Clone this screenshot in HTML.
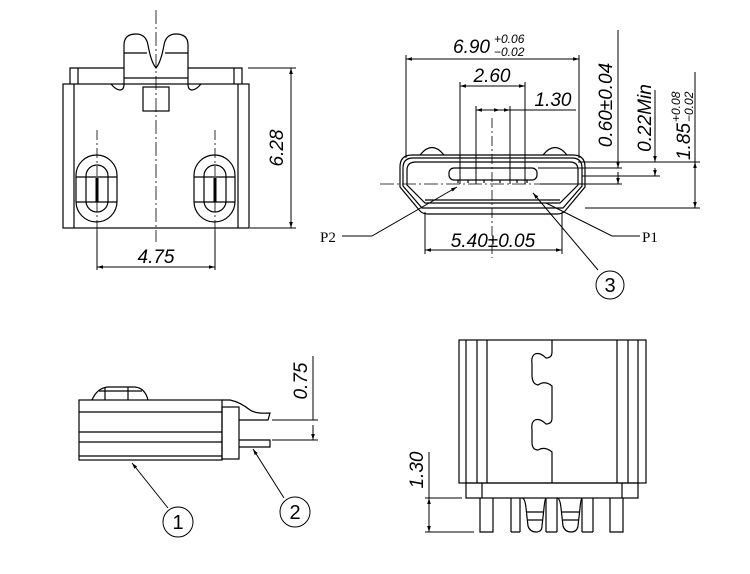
<!DOCTYPE html>
<html><head><meta charset="utf-8"><style>
html,body{margin:0;padding:0;background:#fff;}
svg{display:block}
text{font-family:"Liberation Sans",sans-serif;font-style:italic;fill:#000}
</style></head><body>
<svg width="750" height="574" viewBox="0 0 750 574" xmlns="http://www.w3.org/2000/svg">
<defs>
<marker id="a" viewBox="0 0 10 10" refX="10" refY="5" markerWidth="8" markerHeight="6" orient="auto-start-reverse"><path d="M0,2 L10,5 L0,8z" fill="#000"/></marker>
</defs>
<g stroke="#000" stroke-width="1.2" fill="none">
<!-- ===== Top-left view ===== -->
<line x1="156" y1="10" x2="156" y2="242" stroke-width="0.8" stroke-dasharray="14,3,2,3"/>
<rect x="63" y="84" width="186" height="144"/>
<line x1="74" y1="84" x2="74" y2="228"/>
<line x1="238" y1="84" x2="238" y2="228"/>
<path d="M70,84 V68 H124 V84 M78,68 V84"/>
<path d="M242,84 V68 H188 V84 M234,68 V84"/>
<path d="M124,68 V45 Q124,34 136,34 Q146,34 148,45 Q151,62 156,68 Q161,62 164,45 Q166,34 176,34 Q188,34 188,45 V68"/>
<line x1="124" y1="53" x2="147" y2="53"/><line x1="165" y1="53" x2="188" y2="53"/>
<line x1="124" y1="78" x2="188" y2="78"/>
<path d="M111,84 Q116,90 120,90 Q124,90 124,84"/>
<path d="M201,84 Q196,90 192,90 Q188,90 188,84"/>
<rect x="143" y="87" width="26" height="24"/>
<g>
<rect x="76" y="155" width="41" height="67" rx="20.5"/>
<rect x="86" y="165" width="22" height="47" rx="11"/>
<line x1="76" y1="177" x2="117" y2="177"/><line x1="76" y1="202" x2="117" y2="202"/>
<line x1="97" y1="178" x2="97" y2="202" stroke-width="3"/>
<line x1="97" y1="130" x2="97" y2="232" stroke-width="0.8" stroke-dasharray="10,3,2,3"/>
</g>
<g>
<rect x="194" y="155" width="41" height="67" rx="20.5"/>
<rect x="204" y="165" width="22" height="47" rx="11"/>
<line x1="194" y1="177" x2="235" y2="177"/><line x1="194" y1="202" x2="235" y2="202"/>
<line x1="215" y1="178" x2="215" y2="202" stroke-width="3"/>
<line x1="215" y1="130" x2="215" y2="232" stroke-width="0.8" stroke-dasharray="10,3,2,3"/>
</g>
<g stroke-width="1">
<line x1="248" y1="68" x2="296" y2="68"/><line x1="250" y1="228" x2="296" y2="228"/>
<line x1="291" y1="68" x2="291" y2="228" marker-start="url(#a)" marker-end="url(#a)"/>
<line x1="97" y1="230" x2="97" y2="270"/><line x1="215" y1="230" x2="215" y2="270"/>
<line x1="97" y1="267" x2="215" y2="267" marker-start="url(#a)" marker-end="url(#a)"/>
</g>
<!-- ===== Top-right view ===== -->
<g stroke-width="1">
<line x1="406" y1="59" x2="579" y2="59" marker-start="url(#a)" marker-end="url(#a)"/>
<line x1="406" y1="55" x2="406" y2="158"/><line x1="579" y1="55" x2="579" y2="158"/>
<line x1="460" y1="86" x2="525" y2="86" marker-start="url(#a)" marker-end="url(#a)"/>
<line x1="460" y1="82" x2="460" y2="184"/><line x1="525" y1="82" x2="525" y2="184"/>
<line x1="476" y1="110" x2="500" y2="110" marker-start="url(#a)" marker-end="url(#a)"/>
<line x1="500" y1="110" x2="510" y2="110" marker-end="url(#a)"/>
<line x1="510" y1="110" x2="576" y2="110"/>
<line x1="476" y1="106" x2="476" y2="184"/><line x1="510" y1="106" x2="510" y2="184"/>
<line x1="492" y1="118" x2="492" y2="258" stroke-width="0.8" stroke-dasharray="10,3,2,3"/>
<line x1="380" y1="184" x2="600" y2="184" stroke-width="0.8" stroke-dasharray="14,3,2,3"/>
</g>
<path d="M420,155 Q432,140 444,155 M543,155 Q555,140 567,155"/>
<path d="M412,155 H573 Q585,155 585,167 V187 L565,211 Q562,214 557,214 H428 Q423,214 420,211 L400,187 V167 Q400,155 412,155Z"/>
<path d="M413,158 H572 Q582,158 582,168 V186 L563,208 H422 L403,186 V168 Q403,158 413,158Z"/>
<path d="M416,162 H570 Q578,162 578,170 V185 L560,203 H425 L407,185 V170 Q407,162 416,162Z"/>
<line x1="425" y1="200" x2="560" y2="200"/>
<rect x="449" y="168" width="88" height="12" rx="5"/>
<path d="M458,180v3 M468,180v3 M484,180v3 M500,180v3 M517,180v3 M527,180v3"/>
<g stroke-width="1">
<line x1="538" y1="168" x2="622" y2="168"/><line x1="540" y1="184" x2="622" y2="184"/>
<line x1="618" y1="30" x2="618" y2="168"/>
<line x1="618" y1="150" x2="618" y2="168" marker-end="url(#a)"/>
<line x1="618" y1="184" x2="618" y2="172" marker-start="url(#a)"/>
<line x1="578" y1="162" x2="660" y2="162"/><line x1="582" y1="176" x2="660" y2="176"/>
<line x1="655" y1="90" x2="655" y2="162" marker-end="url(#a)"/>
<line x1="655" y1="176" x2="655" y2="168" marker-start="url(#a)"/>
<line x1="660" y1="162" x2="700" y2="162"/><line x1="585" y1="208" x2="700" y2="208"/>
<line x1="695" y1="72" x2="695" y2="162"/>
<line x1="695" y1="162" x2="695" y2="208" marker-start="url(#a)" marker-end="url(#a)"/>
<line x1="425" y1="212" x2="425" y2="254"/><line x1="562" y1="212" x2="562" y2="254"/>
<line x1="425" y1="250" x2="562" y2="250" marker-start="url(#a)" marker-end="url(#a)"/>
<polyline points="342,236 372,236 457,187" marker-end="url(#a)"/>
<polyline points="640,236 612,236 546,203"/>
<line x1="598" y1="270" x2="533" y2="193" marker-end="url(#a)"/>
<circle cx="610" cy="285" r="14"/>
</g>
<!-- ===== Bottom-left view ===== -->
<rect x="79" y="400" width="143" height="60"/>
<path d="M79,412H222 M79,432H222 M79,442H222 M79,456H222"/>
<path d="M92,400 Q97,388 108,387 H135 Q145,388 148,400 M105,387V400 M128,387V400 M99,391H142"/>
<rect x="222" y="407" width="17" height="52"/>
<path d="M222,400 H230 Q240,402 250,410 Q256,414 270,413 L268,420 H239"/>
<path d="M239,440 H270 V447 H239"/>
<g stroke-width="1">
<line x1="272" y1="420" x2="318" y2="420"/>
<line x1="272" y1="440" x2="318" y2="440"/>
<line x1="313" y1="356" x2="313" y2="420"/>
<line x1="313" y1="425" x2="313" y2="440" marker-end="url(#a)"/>
<line x1="168" y1="508" x2="132" y2="463" marker-end="url(#a)"/>
<circle cx="178" cy="522" r="15"/>
<line x1="284" y1="498" x2="253" y2="449" marker-end="url(#a)"/>
<circle cx="295" cy="512" r="15"/>
</g>
<!-- ===== Bottom-right view ===== -->
<rect x="459" y="340" width="187" height="143"/>
<path d="M466,340V483 M477,340V483 M487,340V483 M617,340V483 M628,340V483 M638,340V483"/>
<path d="M552,340 V352 Q552,358 546,358 Q540,352 535,354 Q531,356 532,364 V375 Q532,384 538,385 Q545,380 552,386 V418 Q552,424 546,424 Q540,418 535,420 Q531,422 532,430 V442 Q532,450 538,450 Q545,446 552,452 V483"/>
<rect x="466" y="483" width="172" height="15"/>
<path d="M482,483V498 M622,483V498"/>
<path d="M480,498V532H493V498 M511,498V532 M520,498V532 M546,498V532 M557,498V532 M582,498V532 M593,498V532 M610,498V532H623V498"/>
<path d="M511,532H520 M546,532H557 M582,532H593"/>
<path d="M522,498 Q525,498 526,508 L528,526 Q530,532 536,532 Q542,532 542,526 L544,508 Q545,498 546,498"/>
<path d="M557,498 Q560,498 561,508 L563,526 Q565,532 571,532 Q577,532 578,526 L580,508 Q581,498 582,498"/>
<path d="M527,512H543 M528,520H542 M562,512H579 M563,520H578"/>
<g stroke-width="1">
<line x1="425" y1="498" x2="462" y2="498"/><line x1="425" y1="532" x2="474" y2="532"/>
<line x1="429" y1="452" x2="429" y2="498"/>
<line x1="429" y1="498" x2="429" y2="532" marker-start="url(#a)" marker-end="url(#a)"/>
</g>
</g>
<!-- texts -->
<g font-size="19">
<text x="283" y="148" transform="rotate(-90 283 148)" text-anchor="middle">6.28</text>
<text x="156" y="263" text-anchor="middle">4.75</text>
<text x="453" y="53">6.90</text>
<text x="494" y="43" font-size="12">+0.06</text>
<text x="494" y="56" font-size="12">−0.02</text>
<text x="492" y="82" text-anchor="middle">2.60</text>
<text x="553" y="106" text-anchor="middle">1.30</text>
<text x="612" y="105" transform="rotate(-90 612 105)" text-anchor="middle">0.60±0.04</text>
<text x="651" y="118" transform="rotate(-90 651 118)" text-anchor="middle">0.22Min</text>
<g transform="translate(690,160) rotate(-90)">
<text x="0" y="0">1.85</text>
<text x="38" y="-10" font-size="12">+0.08</text>
<text x="38" y="3" font-size="12">−0.02</text>
</g>
<text x="493" y="247" text-anchor="middle">5.40±0.05</text>
<text x="307" y="381" transform="rotate(-90 307 381)" text-anchor="middle">0.75</text>
<text x="423" y="470" transform="rotate(-90 423 470)" text-anchor="middle">1.30</text>
</g>
<text x="320" y="242" style="font-family:'Liberation Serif',serif;font-style:normal;font-size:15px">P2</text>
<text x="642" y="242" style="font-family:'Liberation Serif',serif;font-style:normal;font-size:15px">P1</text>
<g font-size="20" text-anchor="middle">
<text x="610" y="292" style="font-style:normal">3</text>
<text x="178" y="529" style="font-style:normal">1</text>
<text x="295" y="519" style="font-style:normal">2</text>
</g>
</svg>
</body></html>
